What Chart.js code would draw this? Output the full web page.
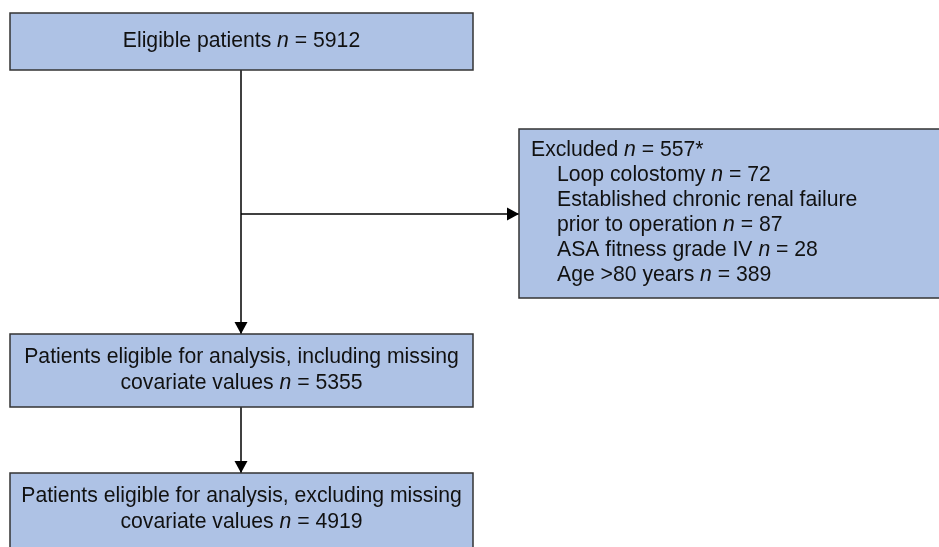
<!DOCTYPE html>
<html>
<head>
<meta charset="utf-8">
<script src="https://cdn.jsdelivr.net/npm/chart.js@4"></script>
<style>
  html, body { margin: 0; padding: 0; background: #fff; }
  #wrap { width: 939px; height: 547px; }
</style>
</head>
<body>
<div id="wrap"><canvas id="flow" width="939" height="547"></canvas></div>
<script>
// flowchart data
const stageLabels = ['Eligible patients', 'Patients eligible for analysis, including missing\ncovariate values', 'Patients eligible for analysis, excluding missing\ncovariate values'];
const stageCounts = [5912, 5355, 4919];
const excludedLabel = 'Excluded';
const excludedCount = '557*';
const reasonLabels = ['Loop colostomy', 'Established chronic renal failure\nprior to operation', 'ASA fitness grade IV', 'Age >80 years'];
const reasonCounts = [72, 87, 28, 389];

// layout in diagram units (x 0..939, y 0..547 downwards)
const stageBoxes = [[10, 13, 473, 70], [10, 334, 473, 407], [10, 473, 473, 560]];
const excludedBox = [519, 129, 940, 298];
const mainX = 241;
const branchY = 214;

const FONT = '"Liberation Sans", Arial, sans-serif';
const FILL = '#aec2e5';

function richParts(label, count) {
  const lines = label.split('\n');
  return lines.map((l, i) => i === lines.length - 1
    ? [{ t: l + ' ' }, { t: 'n', it: true }, { t: ' = ' + count }]
    : [{ t: l }]);
}

function lineWidth(ctx, parts, size) {
  let w = 0;
  parts.forEach(p => { ctx.font = (p.it ? 'italic ' : '') + size + 'px ' + FONT; w += ctx.measureText(p.t).width; });
  return w;
}

function drawParts(ctx, parts, x, y, size) {
  parts.forEach(p => {
    ctx.font = (p.it ? 'italic ' : '') + size + 'px ' + FONT;
    ctx.fillText(p.t, x, y);
    x += ctx.measureText(p.t).width;
  });
}

const flowPlugin = {
  id: 'flow',
  afterDatasetsDraw(chart) {
    const ctx = chart.ctx;
    const xs = chart.scales.x, ys = chart.scales.y;
    const px = v => xs.getPixelForValue(v), py = v => ys.getPixelForValue(v);
    const size = 21.2;
    ctx.save();

    function box(b) {
      const x0 = px(b[0]), y0 = py(b[1]), x1 = px(b[2]), y1 = py(b[3]);
      ctx.fillStyle = FILL;
      ctx.fillRect(x0, y0, x1 - x0, y1 - y0);
      ctx.strokeStyle = '#333';
      ctx.lineWidth = 1.5;
      ctx.strokeRect(x0, y0, x1 - x0, y1 - y0);
    }
    function arrow(x0, y0, x1, y1) {
      ctx.strokeStyle = '#000';
      ctx.lineWidth = 1.5;
      ctx.beginPath(); ctx.moveTo(x0, y0); ctx.lineTo(x1, y1); ctx.stroke();
      const a = Math.atan2(y1 - y0, x1 - x0), L = 12, W = 6.5;
      ctx.fillStyle = '#000';
      ctx.beginPath();
      ctx.moveTo(x1, y1);
      ctx.lineTo(x1 - L * Math.cos(a) + W * Math.sin(a), y1 - L * Math.sin(a) - W * Math.cos(a));
      ctx.lineTo(x1 - L * Math.cos(a) - W * Math.sin(a), y1 - L * Math.sin(a) + W * Math.cos(a));
      ctx.closePath(); ctx.fill();
    }

    // connectors
    ctx.strokeStyle = '#000'; ctx.lineWidth = 1.5;
    ctx.beginPath(); ctx.moveTo(px(mainX), py(stageBoxes[0][3])); ctx.lineTo(px(mainX), py(branchY)); ctx.stroke();
    arrow(px(mainX), py(branchY), px(excludedBox[0]), py(branchY));
    arrow(px(mainX), py(branchY), px(mainX), py(stageBoxes[1][1]));
    arrow(px(mainX), py(stageBoxes[1][3]), px(mainX), py(stageBoxes[2][1]));

    // boxes
    stageBoxes.forEach(box);
    box(excludedBox);

    ctx.fillStyle = '#111';
    ctx.textBaseline = 'middle';
    ctx.textAlign = 'left';
    stageBoxes.forEach((b, i) => {
      const lines = richParts(stageLabels[i], stageCounts[i]);
      const cx = px((b[0] + b[2]) / 2);
      const lh = 26;
      const top = i === 0 ? py(41) : py(b[1] + 23);
      lines.forEach((parts, j) => {
        const w = lineWidth(ctx, parts, size);
        drawParts(ctx, parts, cx - w / 2, top + j * lh, size);
      });
    });

    // excluded box text
    let y = py(150);
    const lh2 = 25;
    drawParts(ctx, richParts(excludedLabel, excludedCount)[0], px(531), y, size);
    reasonLabels.forEach((r, i) => {
      richParts(r, reasonCounts[i]).forEach(parts => {
        y += lh2;
        drawParts(ctx, parts, px(557), y, size);
      });
    });
    ctx.restore();
  }
};

new Chart(document.getElementById('flow'), {
  type: 'scatter',
  data: { datasets: [{ data: [], pointRadius: 0 }] },
  options: {
    responsive: false,
    animation: false,
    layout: { padding: 0 },
    plugins: { legend: { display: false }, tooltip: { enabled: false } },
    scales: {
      x: { type: 'linear', min: 0, max: 939, display: false },
      y: { type: 'linear', min: 0, max: 547, reverse: true, display: false }
    }
  },
  plugins: [flowPlugin]
});
</script>
</body>
</html>
